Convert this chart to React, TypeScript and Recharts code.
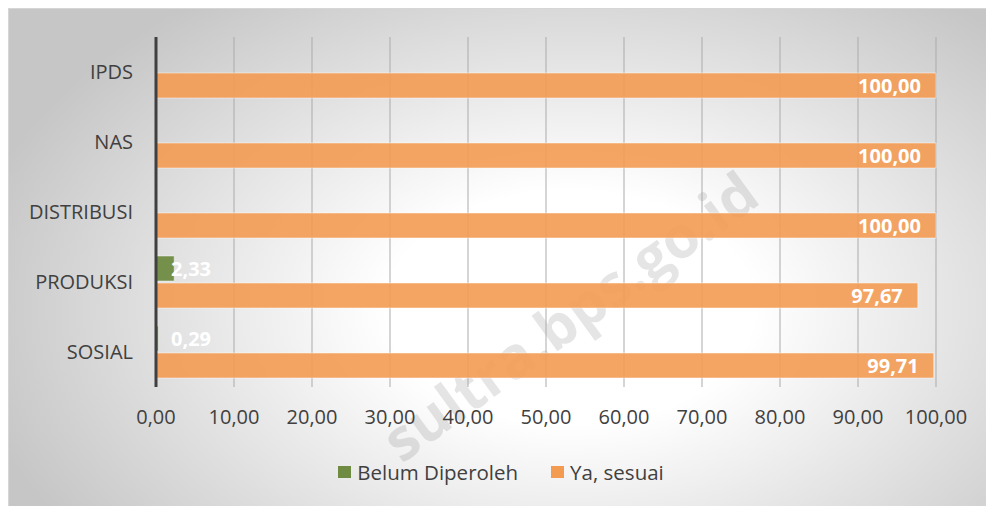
import { Bar, BarChart, CartesianGrid, LabelList, Legend, XAxis, YAxis } from "recharts";

const categories = ["IPDS", "NAS", "DISTRIBUSI", "PRODUKSI", "SOSIAL"];
const belumDiperoleh = [0, 0, 0, 2.33, 0.29];
const yaSesuai = [100, 100, 100, 97.67, 99.71];
const xTicks = [0, 10, 20, 30, 40, 50, 60, 70, 80, 90, 100];

const data = categories.map((name, i) => ({
  name,
  belum: belumDiperoleh[i],
  ya: yaSesuai[i],
}));

const GREEN = "#6f8b42";
const ORANGE = "#f49b52";
const INK = "#404040";

const fmt = (v: number) => v.toFixed(2).replace(".", ",");
const fmtLabel = (v: any) => (Number(v) === 0 ? "" : fmt(Number(v)));

function LegendBox() {
  const item = (color: string, text: string, gap: number) => (
    <div style={{ display: "flex", alignItems: "center", marginRight: gap }}>
      <span style={{ width: 13, height: 12, background: color, marginRight: 6, display: "inline-block" }} />
      <span style={{ fontSize: 20.5, color: INK }}>{text}</span>
    </div>
  );
  return (
    <div style={{ display: "flex", justifyContent: "center", alignItems: "center", height: 40, paddingLeft: 58 }}>
      {item(GREEN, "Belum Diperoleh", 33)}
      {item(ORANGE, "Ya, sesuai", 0)}
    </div>
  );
}

export default function App() {
  return (
    <div
      style={{
        position: "relative",
        width: 986,
        height: 498,
        overflow: "hidden",
        fontFamily: "'Open Sans', sans-serif",
        background: "radial-gradient(ellipse 62% 78% at 57% 60%, #ffffff 0%, #ffffff 30%, #c6c6c6 100%)",
        borderTop: "1px solid #d6d6d6",
        borderLeft: "1px solid #d6d6d6",
        boxSizing: "border-box",
      }}
    >
      {/* watermark, sits behind the chart */}
      <div
        style={{
          position: "absolute",
          left: 560,
          top: 306,
          transform: "translate(-50%, -50%) rotate(-36deg)",
          fontSize: 58,
          fontWeight: 700,
          color: "rgba(0,0,0,0.1)",
          whiteSpace: "nowrap",
          pointerEvents: "none",
        }}
      >
        sultra.bps.go.id
      </div>
      <BarChart
        width={986}
        height={498}
        data={data}
        layout="vertical"
        margin={{ top: 29, right: 58, left: 0, bottom: 14 }}
        barSize={25}
        barGap={2}
        style={{ position: "absolute", left: -1, top: -1 }}
      >
        <CartesianGrid horizontal={false} stroke="#ababab" />
        <XAxis
          type="number"
          domain={[0, 100]}
          ticks={xTicks}
          tickFormatter={fmt}
          axisLine={false}
          tickLine={false}
          tickSize={0}
          tickMargin={23}
          height={65}
          tick={{ fontSize: 20, fill: INK }}
        />
        <YAxis
          type="category"
          dataKey="name"
          width={148}
          tickSize={0}
          tickMargin={23}
          tickLine={false}
          axisLine={{ stroke: INK, strokeWidth: 3 }}
          tick={{ fontSize: 20, fill: INK }}
        />
        <Legend verticalAlign="bottom" height={40} content={() => <LegendBox />} />
        <Bar
          dataKey="belum"
          name="Belum Diperoleh"
          fill={GREEN}
          fillOpacity={0.95}
          stroke="rgba(255,255,255,0.45)"
          strokeWidth={1}
          isAnimationActive={false}
        >
          <LabelList
            dataKey="belum"
            position="insideLeft"
            offset={15}
            formatter={fmtLabel}
            fill="#ffffff"
            fontSize={20}
            fontWeight={700}
          />
        </Bar>
        <Bar
          dataKey="ya"
          name="Ya, sesuai"
          fill={ORANGE}
          fillOpacity={0.9}
          stroke="rgba(255,255,255,0.45)"
          strokeWidth={1}
          isAnimationActive={false}
        >
          <LabelList
            dataKey="ya"
            position="insideRight"
            offset={15}
            formatter={fmtLabel}
            fill="#ffffff"
            fontSize={20}
            fontWeight={700}
          />
        </Bar>
      </BarChart>
    </div>
  );
}
